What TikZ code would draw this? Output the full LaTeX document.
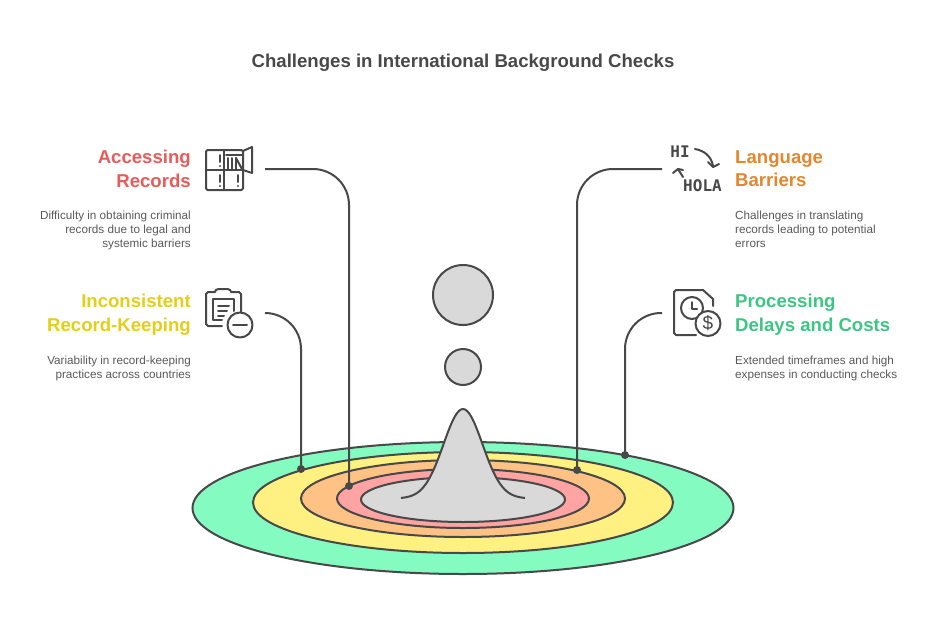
\documentclass[tikz,border=0pt]{standalone}
\usepackage{fontspec}
\setmainfont{Liberation Sans}
\newfontfamily\iconfont{DejaVu Sans Mono}
\definecolor{inkgray}{HTML}{484848}
\definecolor{bodygray}{HTML}{595959}
\definecolor{hillgray}{HTML}{D9D9D9}
\definecolor{ringgreen}{HTML}{84FBC1}
\definecolor{ringyellow}{HTML}{FFF181}
\definecolor{ringorange}{HTML}{FFC285}
\definecolor{ringpink}{HTML}{FFA3A3}
\definecolor{headred}{HTML}{E85B5B}
\definecolor{headyellow}{HTML}{E3CF1A}
\definecolor{headorange}{HTML}{E3872F}
\definecolor{headgreen}{HTML}{3CC583}
\tikzset{
	ring/.style={draw=inkgray,line width=2pt},
	leader/.style={draw=inkgray,line width=2pt,rounded corners=36pt},
	enddot/.style={circle,fill=inkgray,inner sep=0pt,minimum size=8pt},
	icon/.style={draw=inkgray,line width=2pt,line cap=round,line join=round},
	headleft/.style={anchor=north east,align=right,inner sep=0pt,font=\fontsize{18.6}{24}\selectfont\bfseries},
	headright/.style={anchor=north west,align=left,inner sep=0pt,font=\fontsize{18.6}{24}\selectfont\bfseries},
	bodyleft/.style={anchor=north east,align=right,inner sep=0pt,text=bodygray,font=\fontsize{11.7}{14}\selectfont},
	bodyright/.style={anchor=north west,align=left,inner sep=0pt,text=bodygray,font=\fontsize{11.7}{14}\selectfont}
}
\begin{document}
\begin{tikzpicture}[x=1pt,y=-1pt]
	\useasboundingbox (0,0) rectangle (926,624);
	% title
	\node[text=inkgray,font=\fontsize{18.6}{22}\selectfont\bfseries] (title) at (463,63) {Challenges in International Background Checks};
	% rings
	\draw[ring,fill=ringgreen] (463,508) ellipse (270.5 and 66);
	\draw[ring,fill=ringyellow] (463,502.5) ellipse (210 and 50.5);
	\draw[ring,fill=ringorange] (463,498.5) ellipse (162 and 38.5);
	\draw[ring,fill=ringpink] (463,498.5) ellipse (126 and 29.5);
	\draw[ring,fill=hillgray] (463,499.5) ellipse (102 and 22.5);
	% hill and drops
	\fill[hillgray] plot[domain=-62:62,samples=61,smooth] ({463+\x},{498.5-89.5*exp(-(\x*\x)/760)});
	\draw[ring] plot[domain=-62:62,samples=61,smooth] ({463+\x},{498.5-89.5*exp(-(\x*\x)/760)});
	\draw[ring,fill=hillgray] (463,295) circle (30);
	\draw[ring,fill=hillgray] (463,367) circle (18);
	% connectors
	\coordinate (startaccess) at (265,169);
	\coordinate (startlanguage) at (662,169);
	\coordinate (startrecord) at (265,313);
	\coordinate (startdelay) at (662,313);
	\node[enddot] (dotaccess) at (349,486) {};
	\node[enddot] (dotlanguage) at (577,470) {};
	\node[enddot] (dotrecord) at (301,469) {};
	\node[enddot] (dotdelay) at (625,455) {};
	\draw[leader] (startaccess) -| (dotaccess.center);
	\draw[leader] (startlanguage) -| (dotlanguage.center);
	\draw[leader] (startrecord) -| (dotrecord.center);
	\draw[leader] (startdelay) -| (dotdelay.center);
	% left texts
	\node[headleft,text=headred] (headaccess) at (191,150) {Accessing\\Records};
	\node[bodyleft] (bodyaccess) at (191,211) {Difficulty in obtaining criminal\\records due to legal and\\systemic barriers};
	\node[headleft,text=headyellow] (headrecord) at (191,294) {Inconsistent\\Record-Keeping};
	\node[bodyleft] (bodyrecord) at (191,356) {Variability in record-keeping\\practices across countries};
	% right texts
	\node[headright,text=headorange] (headlanguage) at (735,150) {Language\\Barriers};
	\node[bodyright] (bodylanguage) at (735,211) {Challenges in translating\\records leading to potential\\errors};
	\node[headright,text=headgreen] (headdelay) at (735,294) {Processing\\Delays and Costs};
	\node[bodyright] (bodydelay) at (735,356) {Extended timeframes and high\\expenses in conducting checks};
	% cabinet icon
	\draw[icon,rounded corners=1.5pt] (206,150) rectangle (243,190);
	\draw[icon] (224,150)--(224,190);
	\draw[icon] (206,170)--(243,170);
	\draw[icon] (243,151)--(252,147)--(252,173)--(243,170);
	\draw[icon] (226,155)--(243,155);
	\draw[icon] (228,158)--(228,169);
	\draw[icon] (232,158)--(232,169);
	\draw[icon] (235.5,158)--(235.5,169);
	\draw[icon] (236,158)--(242,169);
	\foreach \px/\py in {220/155,220/175,238/175} {
		\draw[icon] (\px,\py)--(\px,\py+7);
		\fill[inkgray] (\px,\py+11) circle (1.2);
	}
	% clipboard icon
	\draw[icon] (222,326)--(208,326)--(206,324)--(206,294)--(208,292)--(215,292)
		to[out=90,in=180] (223,289) to[out=0,in=90] (231,292)--(239,292)--(241,294)--(241,312);
	\draw[icon] (222,320)--(213,320)--(213,299)--(234,299)--(234,311);
	\draw[icon] (218,306)--(229,306);
	\draw[icon] (218,311)--(227,311);
	\draw[icon] (218,316)--(224,316);
	\draw[icon,fill=white] (240,325) circle (12.5);
	\draw[icon] (233,325)--(247,325);
	% translate icon
	\node[text=inkgray,inner sep=0pt,font=\fontsize{16}{16}\selectfont\iconfont\bfseries] (iconhi) at (680,152) {HI};
	\node[text=inkgray,inner sep=0pt,font=\fontsize{16}{16}\selectfont\iconfont\bfseries] (iconhola) at (702.5,186) {HOLA};
	\draw[icon] (695,149) to[out=-10,in=100] (713,166);
	\draw[icon] (708,162)--(713,167)--(719,164);
	\draw[icon] (683,177)--(678,169);
	\draw[icon] (673,173)--(678,169)--(683,170);
	% delay icon
	\draw[icon] (696,335)--(676,335)--(674,333)--(674,292)--(676,290)--(703,290)--(713,299)--(713,306);
	\draw[icon] (692,308) circle (11);
	\draw[icon] (692,302)--(692,309)--(697,309);
	\draw[icon,fill=white] (708,323.5) circle (12.5);
	\node[text=inkgray,inner sep=0pt,font=\fontsize{19}{19}\selectfont] (icondollar) at (708,323.5) {\$};
\end{tikzpicture}
\end{document}
